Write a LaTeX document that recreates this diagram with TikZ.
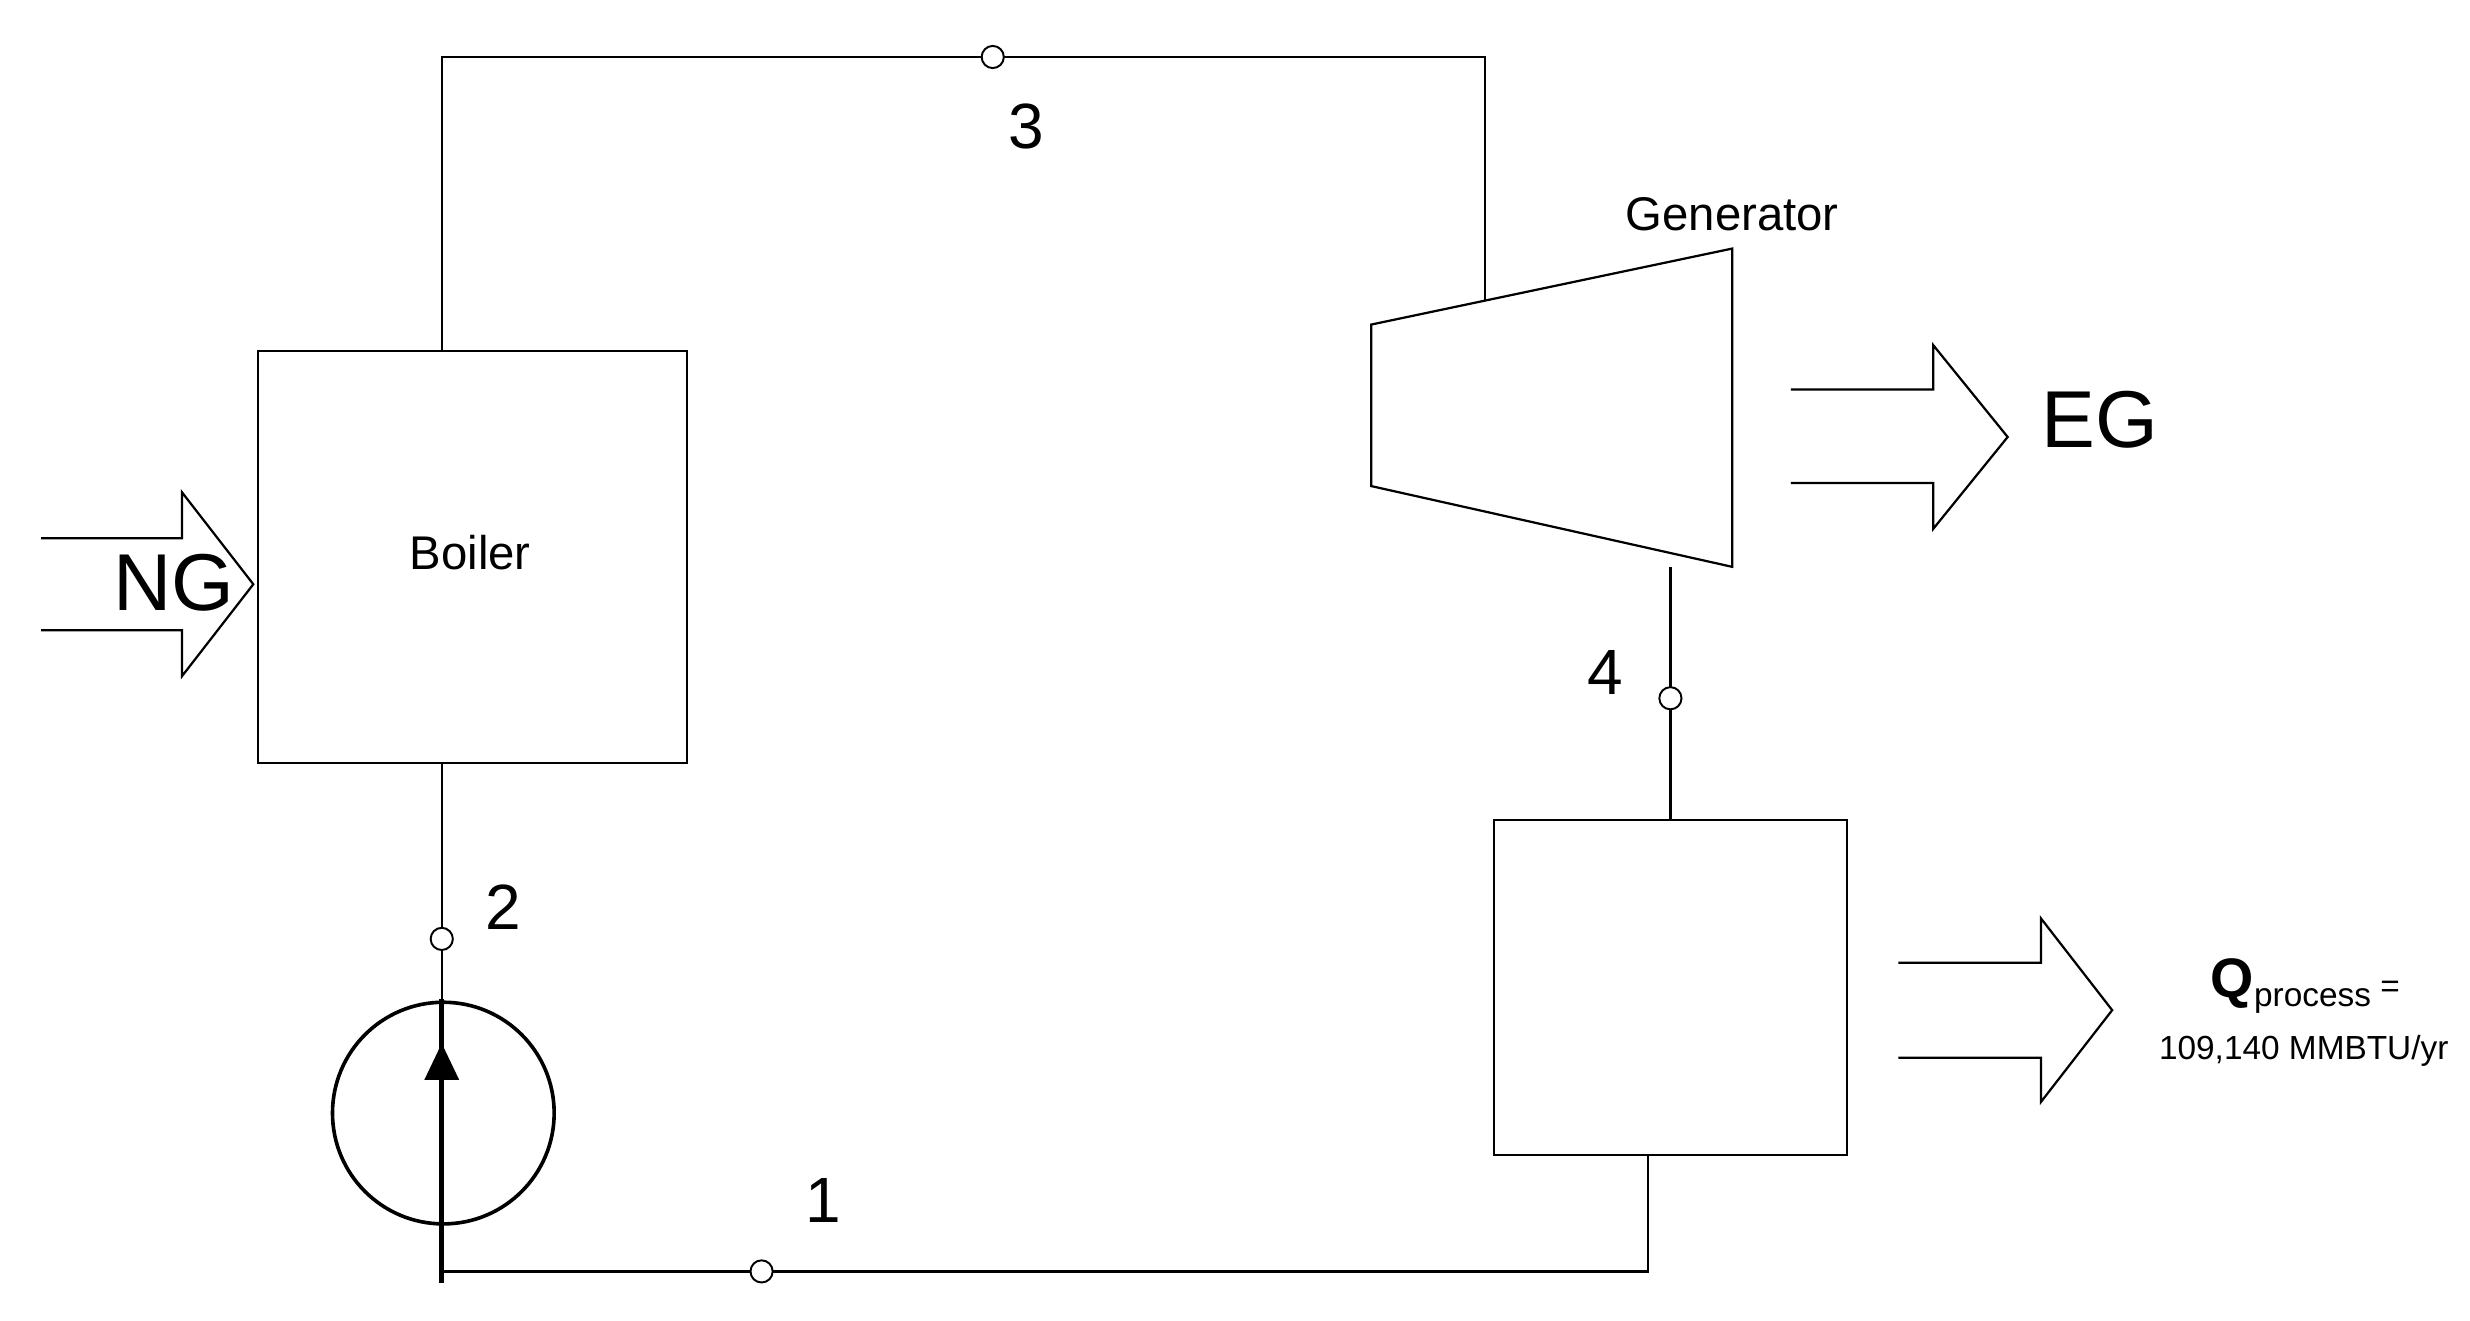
\documentclass[tikz,border=0pt]{standalone}
\usepackage{fontspec}
\setmainfont{Liberation Sans}
\begin{document}
\begin{tikzpicture}[x=0.02cm,y=-0.02cm,line width=0.8pt,
  pt/.style={circle,draw,fill=white,inner sep=0pt,minimum size=0.28cm,line width=0.7pt},
  lbl/.style={font=\fontsize{23}{26}\selectfont},
  big/.style={font=\fontsize{29}{32}\selectfont},
  small/.style={font=\fontsize{17}{20}\selectfont}]
\useasboundingbox (0,0) rectangle (1560,834.3);
% boiler
\node[draw,minimum width=271*0.02cm,minimum height=260*0.02cm,anchor=north west,line width=0.8pt] (boiler) at (162,221) {};
\node[small] (bl) at (297,349) {Boiler};
% hx box
\node[draw,minimum width=223*0.02cm,minimum height=212*0.02cm,anchor=north west] (hx) at (943,517) {};
% turbine
\draw (866,205) coordinate (t1) -- (1094,157) -- (1094,358) -- (866,307) -- cycle;
\node[small] (gen) at (1094,135) {Generator};
% piping
\coordinate (c3a) at (279,36); \coordinate (c3b) at (938,36); \coordinate (tin) at (938,190);
\draw (279,221) -- (c3a) -- (c3b) -- (tin);
\node[pt] (p3) at (627,36) {};
\node[lbl] (l3) at (648,80) {3};
\coordinate (tout) at (1055,358); \coordinate (hin) at (1055,517);
\draw (tout) -- (hin);
\node[pt] (p4) at (1055,441) {};
\node[lbl] (l4) at (1014,425) {4};
\coordinate (hout) at (1041,729); \coordinate (c1) at (1041,803); \coordinate (c1b) at (279,803);
\draw (hout) -- (c1) -- (c1b);
\node[pt] (p1) at (481,803) {};
\node[lbl] (l1) at (520,758) {1};
% pump
\node[draw,circle,minimum size=140*0.02cm,line width=1.3pt,inner sep=0pt] (pump) at (280,703) {};
\draw (279,481) -- (279,631);
\draw[line width=1.8pt] (279,631) -- (279,810);
\fill (279,659) -- (290,682) -- (268,682) -- cycle;
\node[pt] (p2) at (279,593) {};
\node[lbl] (l2) at (318,573) {2};
% NG arrow
\draw (26,340) -- (115,340) -- (115,311) -- (160,369) -- (115,427) -- (115,398) -- (26,398);
\node[big] (ng) at (110,368) {NG};
% EG arrow
\draw (1131,246) -- (1221,246) -- (1221,218) -- (1268,276) -- (1221,334) -- (1221,305) -- (1131,305);
\node[big] (eg) at (1326,265) {EG};
% Q arrow
\draw (1199,608) -- (1289,608) -- (1289,580) -- (1334,638) -- (1289,696) -- (1289,668) -- (1199,668);
\node[anchor=base,inner sep=0pt] (q) at (1456,630) {\fontsize{20}{22}\selectfont\textbf{Q}\fontsize{12}{14}\selectfont\raisebox{-0.5ex}{process} =};
\node[font=\fontsize{12}{14}\selectfont] (qv) at (1455,664) {109,140 MMBTU/yr};
\end{tikzpicture}
\end{document}
